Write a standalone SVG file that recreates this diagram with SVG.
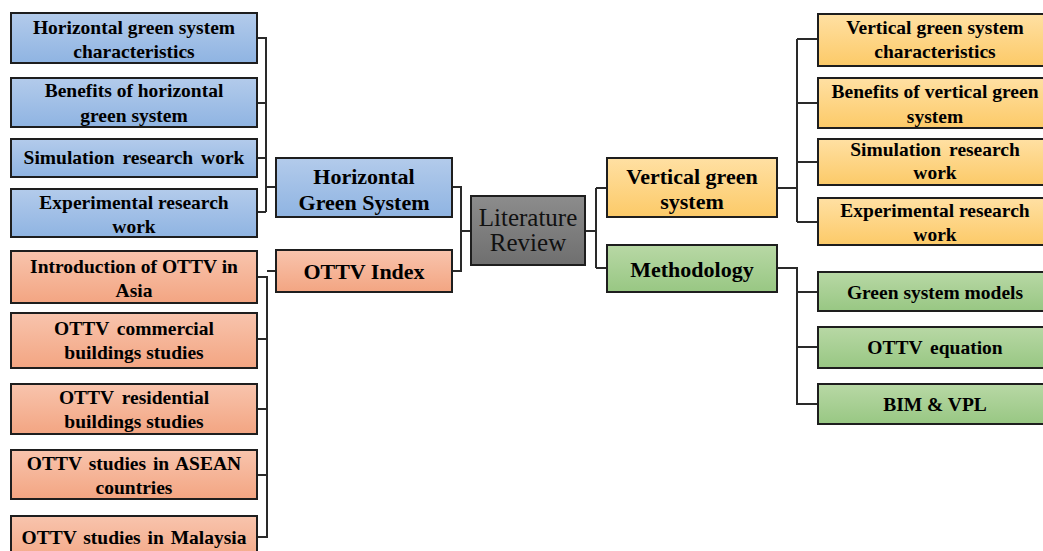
<svg xmlns="http://www.w3.org/2000/svg" width="1043" height="551" viewBox="0 0 1043 551">
<defs>
<linearGradient id="gBlue" x1="0" y1="0" x2="0" y2="1"><stop offset="0" stop-color="#b3cbeb"/><stop offset="1" stop-color="#8fb4e2"/></linearGradient>
<linearGradient id="gOrange" x1="0" y1="0" x2="0" y2="1"><stop offset="0" stop-color="#f8c4ad"/><stop offset="1" stop-color="#f3a582"/></linearGradient>
<linearGradient id="gYellow" x1="0" y1="0" x2="0" y2="1"><stop offset="0" stop-color="#ffe0a3"/><stop offset="1" stop-color="#fcca68"/></linearGradient>
<linearGradient id="gGreen" x1="0" y1="0" x2="0" y2="1"><stop offset="0" stop-color="#b8d8a5"/><stop offset="1" stop-color="#98c783"/></linearGradient>
<linearGradient id="gGray" x1="0" y1="0" x2="0" y2="1"><stop offset="0" stop-color="#8c8c8c"/><stop offset="1" stop-color="#6f6f6f"/></linearGradient>
</defs>
<style>
rect{stroke:#1e1e1e;stroke-width:2}
.b{fill:url(#gBlue)}.o{fill:url(#gOrange)}.y{fill:url(#gYellow)}.g{fill:url(#gGreen)}.k{fill:url(#gGray)}
text{font-family:"Liberation Serif","Times New Roman",serif;font-weight:bold;fill:#000;text-anchor:middle}
.s{font-size:19.5px}
.m{font-size:22px}
.lr{font-size:25px;font-weight:normal;fill:#111}
#connectors path{fill:none;stroke:#2a2a2a;stroke-width:2}
</style>
<g id="connectors">
<path d="M257 38H266V212M257 103H266M257 158H266M257 212H266M266 187H276"/>
<path d="M452 187H461V271H452M461 231H471"/>
<path d="M257 277H267V537H257M257 339H267M257 409H267M257 475H267M267 271H276"/>
<path d="M585 231H596M596 188V268M596 188H607M596 268H607"/>
<path d="M777 188H797M797 39V222M797 39H818M797 103H818M797 162H818M797 222H818"/>
<path d="M777 268H797V404H818M797 292H818M797 347H818"/>
</g>
<g id="lit-review"><rect class="k" x="471" y="196" width="114" height="69"/><text class="lr" x="528" y="226">Literature</text><text class="lr" x="528" y="251">Review</text></g>
<g id="hgs"><rect class="b" x="276" y="158" width="176" height="59"/><text class="m" x="364" y="184">Horizontal</text><text class="m" x="364" y="210">Green System</text></g>
<g id="ottv-index"><rect class="o" x="276" y="250" width="176" height="42"/><text class="m" x="364" y="279">OTTV Index</text></g>
<g id="vgs"><rect class="y" x="607" y="158" width="170" height="59"/><text class="m" x="692" y="184">Vertical green</text><text class="m" x="692" y="209">system</text></g>
<g id="methodology"><rect class="g" x="607" y="245" width="170" height="47"/><text class="m" x="692" y="277">Methodology</text></g>

<g id="h1"><rect class="b" x="11" y="13" width="246" height="50"/><text class="s" x="134" y="34">Horizontal green system</text><text class="s" x="134" y="58">characteristics</text></g>
<g id="h2"><rect class="b" x="11" y="78" width="246" height="49"/><text class="s" x="134" y="97">Benefits of horizontal</text><text class="s" x="134" y="122">green system</text></g>
<g id="h3"><rect class="b" x="11" y="139" width="246" height="38"/><text class="s" x="134" y="164" word-spacing="3">Simulation research work</text></g>
<g id="h4"><rect class="b" x="11" y="189" width="246" height="48"/><text class="s" x="134" y="209">Experimental research</text><text class="s" x="134" y="233">work</text></g>

<g id="o1"><rect class="o" x="11" y="251" width="246" height="52"/><text class="s" x="134" y="273">Introduction of OTTV in</text><text class="s" x="134" y="297">Asia</text></g>
<g id="o2"><rect class="o" x="11" y="313" width="246" height="55"/><text class="s" x="134" y="335" word-spacing="3">OTTV commercial</text><text class="s" x="134" y="359">buildings studies</text></g>
<g id="o3"><rect class="o" x="11" y="384" width="246" height="50"/><text class="s" x="134" y="404" word-spacing="3">OTTV residential</text><text class="s" x="134" y="428">buildings studies</text></g>
<g id="o4"><rect class="o" x="11" y="450" width="246" height="49"/><text class="s" x="134" y="470" word-spacing="2">OTTV studies in ASEAN</text><text class="s" x="134" y="494">countries</text></g>
<g id="o5"><rect class="o" x="11" y="516" width="246" height="50"/><text class="s" x="134" y="544" word-spacing="2">OTTV studies in Malaysia</text></g>

<g id="v1"><rect class="y" x="818" y="14" width="234" height="52"/><text class="s" x="935" y="34">Vertical green system</text><text class="s" x="935" y="58">characteristics</text></g>
<g id="v2"><rect class="y" x="818" y="78" width="234" height="50"/><text class="s" x="935" y="98">Benefits of vertical green</text><text class="s" x="935" y="123">system</text></g>
<g id="v3"><rect class="y" x="818" y="139" width="234" height="46"/><text class="s" x="935" y="156" word-spacing="3">Simulation research</text><text class="s" x="935" y="179">work</text></g>
<g id="v4"><rect class="y" x="818" y="198" width="234" height="47"/><text class="s" x="935" y="217">Experimental research</text><text class="s" x="935" y="241">work</text></g>

<g id="m1"><rect class="g" x="818" y="272" width="234" height="39"/><text class="s" x="935" y="299">Green system models</text></g>
<g id="m2"><rect class="g" x="818" y="327" width="234" height="41"/><text class="s" x="935" y="354" word-spacing="3">OTTV equation</text></g>
<g id="m3"><rect class="g" x="818" y="384" width="234" height="40"/><text class="s" x="935" y="411">BIM &amp; VPL</text></g>
</svg>
